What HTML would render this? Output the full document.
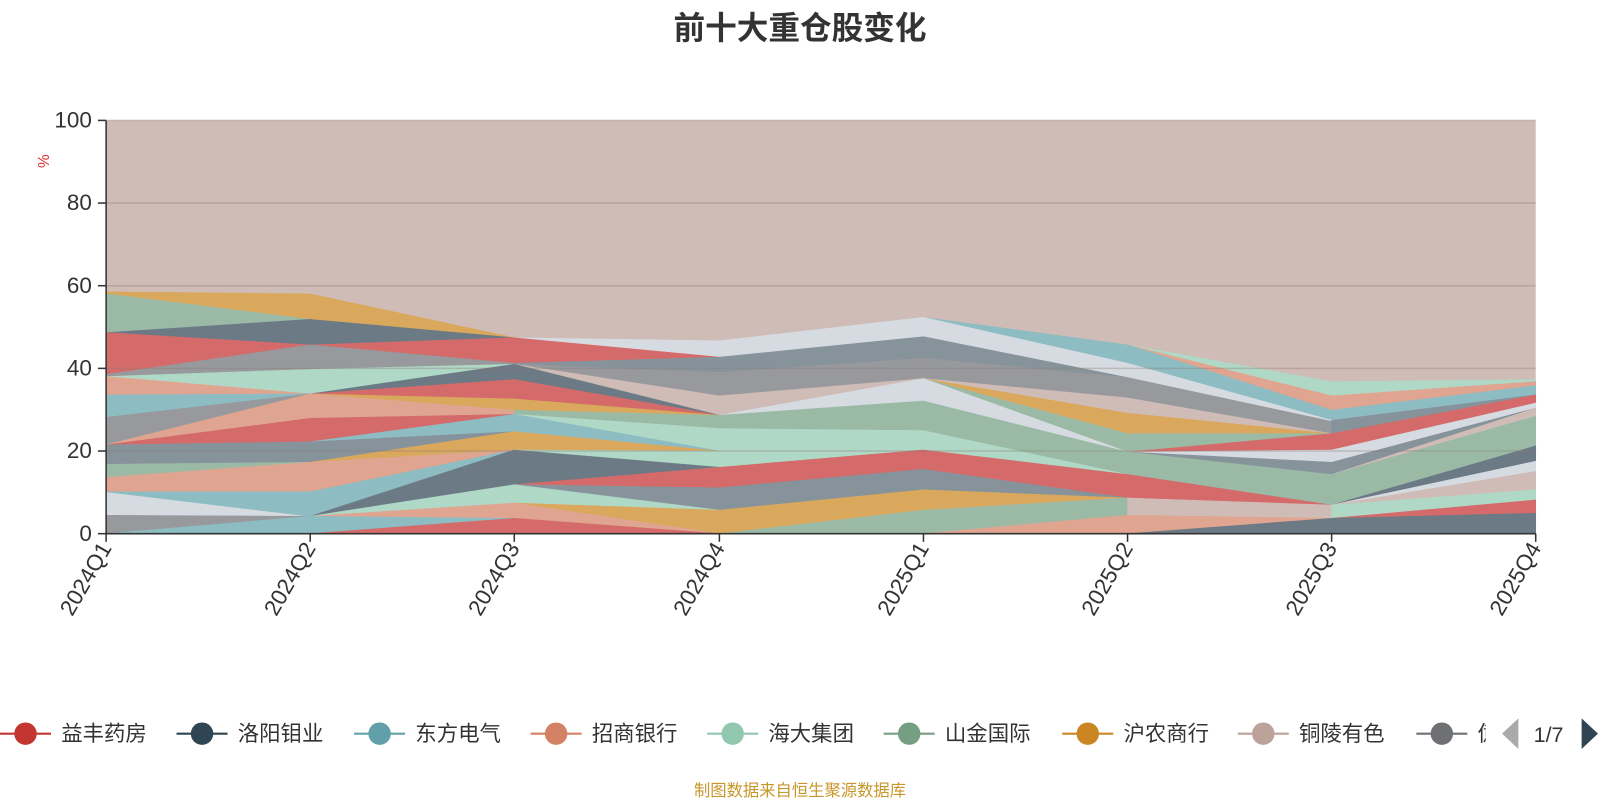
<!DOCTYPE html>
<html><head><meta charset="utf-8"><style>
html,body{margin:0;padding:0;background:#fff;}
svg{display:block;font-family:"Liberation Sans","Noto Sans CJK SC",sans-serif;}
</style></head><body>
<svg id="s" width="1600" height="800" viewBox="0 0 1568 784" preserveAspectRatio="none" xmlns="http://www.w3.org/2000/svg">
<text x="784" y="38" text-anchor="middle" font-size="31" font-weight="bold" fill="#333">前十大重仓股变化</text>
<rect x="104" y="118" width="1401" height="405" fill="#cfbcb6"/>
<g id="areas"></g>
<g stroke="#8a7a74" stroke-opacity="0.35" stroke-width="1.5">
<line x1="104" y1="118" x2="1505" y2="118"/><line x1="104" y1="199" x2="1505" y2="199"/>
<line x1="104" y1="280" x2="1505" y2="280"/><line x1="104" y1="361" x2="1505" y2="361"/>
<line x1="104" y1="442" x2="1505" y2="442"/>
</g>
<line x1="104" y1="118" x2="104" y2="523" stroke="#333" stroke-width="1.5"/>
<line x1="104" y1="523" x2="1505" y2="523" stroke="#333" stroke-width="1.5"/>
<g stroke="#333" stroke-width="1.5">
<line x1="96" y1="118" x2="104" y2="118"/><line x1="96" y1="199" x2="104" y2="199"/><line x1="96" y1="280" x2="104" y2="280"/>
<line x1="96" y1="361" x2="104" y2="361"/><line x1="96" y1="442" x2="104" y2="442"/><line x1="96" y1="523" x2="104" y2="523"/>
</g>
<g font-size="22" fill="#333" text-anchor="end">
<text x="90" y="125">100</text><text x="90" y="206">80</text><text x="90" y="287">60</text>
<text x="90" y="368">40</text><text x="90" y="449">20</text><text x="90" y="530">0</text>
</g>
<text x="48" y="158" font-size="15" fill="#e03030" transform="rotate(-90 48 158)" text-anchor="middle">%</text>
<g id="xl" font-size="22" fill="#333" text-anchor="end"></g>
<g id="leg" font-size="21" fill="#333"></g>
<polygon points="1472,719 1488,704 1488,734" fill="#aaa"/>
<text x="1503" y="727" font-size="21" fill="#333">1/7</text>
<polygon points="1566,719 1550,704 1550,734" fill="#2f4554"/>
<text x="784" y="780" text-anchor="middle" font-size="16" fill="#c8962a">制图数据来自恒生聚源数据库</text>
</svg>
<script>
var C={Y:"#d9a85c",G:"#9bbaa6",S:"#6c7a86",R:"#d46b6a",Gr:"#98999d",LG:"#b0d8c6",Sa:"#e0a590",T:"#8dbcc3",GB:"#87939b",W:"#d6dbe2",PB:"#d0bcb6"};
var X=[104,304,504,705,905,1105,1305,1505];
var segs=[
[[286,288,288,313,"Y"],[288,326,313,313,"G"],[326,326,313,338,"S"],[326,367,338,338,"R"],[367,369,338,362,"Gr"],[369,369,362,386,"LG"],[369,387,386,386,"Sa"],[387,409,386,386,"T"],[409,436,386,386,"Gr"],[436,436,386,410,"Sa"],[436,436,410,433,"R"],[436,455,433,453,"GB"],[455,468,453,453,"G"],[468,482,453,482,"Sa"],[482,505,506,506,"W"],[482,482,482,506,"T"],[505,523,506,506,"Gr"],[523,523,506,523,"T"]],
[[288,313,331,331,"Y"],[313,338,331,331,"S"],[338,338,331,356,"R"],[338,362,356,357,"Gr"],[362,386,357,357,"LG"],[386,386,357,372,"S"],[386,386,372,391,"R"],[386,386,391,402,"Y"],[386,410,402,406,"Sa"],[410,433,406,406,"R"],[433,433,406,423,"T"],[433,453,423,423,"GB"],[453,453,423,441,"Y"],[453,482,441,441,"Sa"],[482,506,441,441,"T"],[506,506,441,475,"S"],[506,506,475,493,"LG"],[506,506,493,508,"Sa"],[506,523,508,508,"T"],[523,523,508,523,"R"]],
[[331,331,334,350,"W"],[331,356,350,350,"R"],[356,357,350,365,"GB"],[357,357,365,388,"Gr"],[357,357,388,407,"PB"],[357,372,407,407,"S"],[372,391,407,407,"R"],[391,402,407,407,"Y"],[402,406,407,420,"G"],[406,406,420,442,"LG"],[406,423,442,442,"T"],[423,441,442,442,"Y"],[441,441,442,458,"LG"],[441,475,458,458,"S"],[475,475,458,478,"R"],[475,475,478,500,"GB"],[475,493,500,500,"LG"],[493,493,500,523,"Y"],[493,508,523,523,"Sa"],[508,523,523,523,"R"]],
[[334,350,311,330,"W"],[350,365,330,351,"GB"],[365,388,351,371,"Gr"],[388,407,371,371,"PB"],[407,407,371,393,"W"],[407,420,393,422,"G"],[420,442,422,441,"LG"],[442,458,441,441,"LG"],[458,478,441,460,"R"],[478,500,460,480,"GB"],[500,523,480,500,"Y"],[523,523,500,523,"G"]],
[[311,311,338,356,"T"],[311,330,356,370,"W"],[330,351,370,370,"GB"],[351,371,370,390,"Gr"],[371,371,390,405,"PB"],[371,371,405,425,"Y"],[371,371,425,443,"G"],[371,393,443,443,"W"],[393,422,443,465,"G"],[422,441,465,465,"LG"],[441,460,465,488,"R"],[460,480,488,488,"GB"],[480,500,488,488,"Y"],[500,523,488,505,"G"],[523,523,505,523,"Sa"]],
[[338,338,374,388,"LG"],[338,338,388,402,"Sa"],[338,356,402,412,"T"],[356,370,412,413,"W"],[370,390,413,425,"Gr"],[390,405,425,425,"PB"],[405,425,425,425,"Y"],[425,443,425,425,"G"],[443,443,425,441,"R"],[443,443,441,453,"W"],[443,443,453,465,"GB"],[443,465,465,495,"G"],[465,488,495,495,"R"],[488,505,495,508,"PB"],[505,523,508,508,"Sa"],[523,523,508,523,"S"]],
[[374,388,372,374,"LG"],[388,402,374,378,"Sa"],[402,412,378,387,"T"],[412,425,387,387,"GB"],[425,441,387,395,"R"],[441,453,395,400,"W"],[453,465,400,400,"GB"],[465,465,400,408,"PB"],[465,495,408,437,"G"],[495,495,437,452,"S"],[495,495,452,462,"W"],[495,495,462,480,"PB"],[495,508,480,490,"LG"],[508,508,490,503,"R"],[508,523,503,523,"S"]]
];
var ns="http://www.w3.org/2000/svg",g=document.getElementById("areas");
segs.forEach(function(sg,i){var x1=X[i],x2=X[i+1];sg.forEach(function(q){
var p=document.createElementNS(ns,"polygon");
p.setAttribute("points",x1+","+q[0]+" "+x2+","+q[2]+" "+x2+","+q[3]+" "+x1+","+q[1]);
p.setAttribute("fill",C[q[4]]);p.setAttribute("stroke",C[q[4]]);p.setAttribute("stroke-width","0.6");g.appendChild(p);});});
var xl=document.getElementById("xl"),labs=["2024Q1","2024Q2","2024Q3","2024Q4","2025Q1","2025Q2","2025Q3","2025Q4"];
X.forEach(function(x,i){var l=document.createElementNS(ns,"line");l.setAttribute("x1",x);l.setAttribute("x2",x);l.setAttribute("y1",523);l.setAttribute("y2",531);l.setAttribute("stroke","#333");l.setAttribute("stroke-width","1.5");document.getElementById("s").appendChild(l);
var t=document.createElementNS(ns,"text");t.setAttribute("x",x+6);t.setAttribute("y",537);t.setAttribute("transform","rotate(-60 "+(x+6)+" 537)");t.textContent=labs[i];xl.appendChild(t);});
var leg=document.getElementById("leg"),items=[["益丰药房","#c23531",25],["洛阳钼业","#2f4554",198],["东方电气","#61a0a8",372],["招商银行","#d48265",545],["海大集团","#91c7ae",718],["山金国际","#749f83",891],["沪农商行","#ca8622",1066],["铜陵有色","#bda29a",1238],["億","#6e7074",1413]];
items.forEach(function(it){var c=it[2];
var l=document.createElementNS(ns,"line");l.setAttribute("x1",c-25);l.setAttribute("x2",c+25);l.setAttribute("y1",719);l.setAttribute("y2",719);l.setAttribute("stroke",it[1]);l.setAttribute("stroke-width","2");leg.appendChild(l);
var ci=document.createElementNS(ns,"circle");ci.setAttribute("cx",c);ci.setAttribute("cy",719);ci.setAttribute("r",11);ci.setAttribute("fill",it[1]);leg.appendChild(ci);
var t=document.createElementNS(ns,"text");t.setAttribute("x",c+35);t.setAttribute("y",726);t.textContent=it[0];
if(it[0]=="億"){var cp=document.createElementNS(ns,"clipPath");cp.setAttribute("id","cp");var r=document.createElementNS(ns,"rect");r.setAttribute("x",0);r.setAttribute("y",690);r.setAttribute("width",1456);r.setAttribute("height",60);cp.appendChild(r);leg.appendChild(cp);t.setAttribute("clip-path","url(#cp)");}
leg.appendChild(t);});
</script>
</body></html>
